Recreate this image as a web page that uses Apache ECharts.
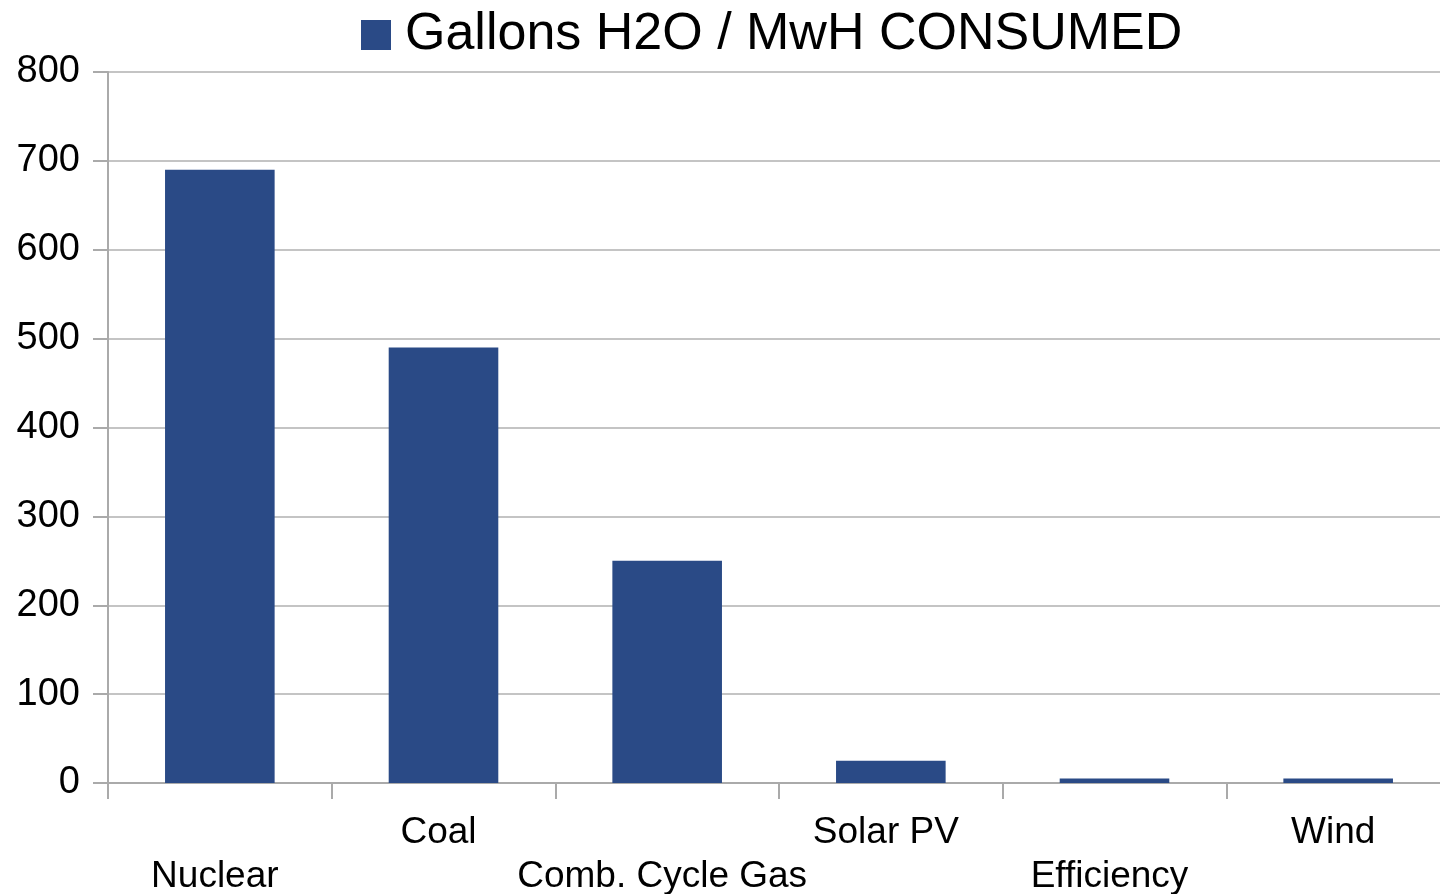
<!DOCTYPE html>
<html>
<head>
<meta charset="utf-8">
<script src="https://cdn.jsdelivr.net/npm/echarts@6/dist/echarts.min.js"></script>
<style>
  html, body { margin: 0; padding: 0; background: #fff; }
  #chart { width: 1440px; height: 894px; }
</style>
</head>
<body>
<div id="chart"></div>
<script>
// categories and values
const categories = ["Nuclear", "Coal", "Comb. Cycle Gas", "Solar PV", "Efficiency", "Wind"];
const gallonsPerMwh = [690, 490, 250, 25, 5, 5];
const seriesName = "Gallons H2O / MwH CONSUMED";

const myChart = echarts.init(document.getElementById("chart"));
const option = {
  animation: false,
  textStyle: { fontFamily: "Liberation Sans, Arial, sans-serif" },
  legend: {
    data: [seriesName],
    left: 361,
    top: 9,
    padding: 0,
    itemWidth: 30,
    itemHeight: 30,
    itemGap: 14,
    icon: "rect",
    textStyle: {
      fontSize: 52,
      color: "#000",
      padding: [0, 0, 0, 9],
      fontFamily: "Liberation Sans, Arial, sans-serif",
    },
  },
  grid: {
    left: 108,
    top: 72,
    right: -10,
    bottom: 111,
    outerBoundsMode: "none",
    containLabel: false,
  },
  xAxis: {
    type: "category",
    data: categories,
    axisLine: { show: true, lineStyle: { color: "#aaaaaa", width: 2 } },
    axisTick: { show: true, length: 16, lineStyle: { color: "#aaaaaa", width: 2 } },
    axisLabel: {
      interval: 0,
      margin: 28,
      fontSize: 37,
      color: "#000",
      lineHeight: 44,
      verticalAlign: "top",
      padding: [0, 10, 0, 0],
      formatter: (value, index) => (index % 2 === 0 ? "\n" + value : value),
    },
  },
  yAxis: {
    type: "value",
    min: 0,
    max: 800,
    interval: 100,
    axisLine: { show: true, lineStyle: { color: "#aaaaaa", width: 2 } },
    axisTick: { show: true, length: 15, lineStyle: { color: "#aaaaaa", width: 2 } },
    axisLabel: { fontSize: 38, color: "#000", margin: 28 },
    splitLine: { lineStyle: { color: "#c4c4c4", width: 2 } },
  },
  series: [
    {
      name: seriesName,
      type: "bar",
      data: gallonsPerMwh,
      barWidth: "49%",
      itemStyle: { color: "#2a4a86" },
    },
  ],
};
myChart.setOption(option, true);
</script>
</body>
</html>
